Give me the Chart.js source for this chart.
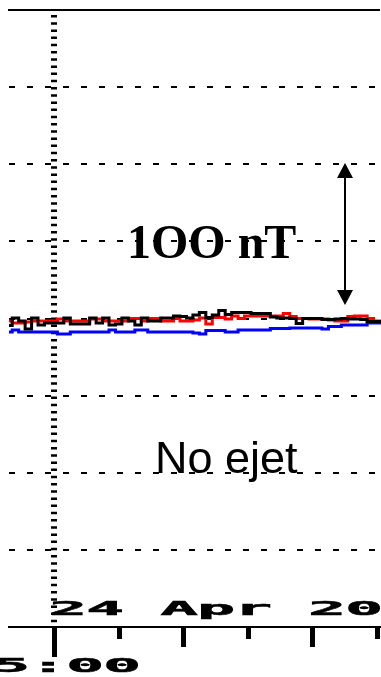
<!DOCTYPE html>
<html>
<head>
<meta charset="utf-8">
<script src="https://cdn.jsdelivr.net/npm/chart.js@4.4.1/dist/chart.umd.min.js"></script>
<style>
  html, body { margin: 0; padding: 0; background: #fff; }
  #wrap { width: 381px; height: 677px; }
</style>
</head>
<body>
<div id="wrap"><canvas id="mag" width="381" height="677"></canvas></div>
<script>
// minutes relative to the 15:00 mark, one sample every 3 minutes
const minutes = [-21, -18, -15, -12, -9, -6, -3, 0, 3, 6, 9, 12, 15, 18, 21, 24, 27, 30, 33, 36,
  39, 42, 45, 48, 51, 54, 57, 60, 63, 66, 69, 72, 75, 78, 81, 84, 87, 90, 93, 96,
  99, 102, 105, 108, 111, 114, 117, 120, 123, 126, 129, 132, 135, 138, 141, 144, 147, 150, 153];

// field components (nT)
const redSeries = [-3.2, -5.8, -5.8, -4.5, -3.2, -3.2, -3.2, -3.2, -0.6, -3.2, -3.2, -3.2, -3.2, -0.6, -0.6, -3.2, -3.2, -3.2, -3.2, 0,
  0, -3.2, 0, 0, -3.2, -3.2, 0, -3.2, -3.2, -1.9, 0.6, -7.1, 1.3, 1.3, -0.6, 3.2, 0, 3.2, 3.2, 3.2,
  3.2, 3.2, 3.2, 6.5, 2.6, 0, 0, -0.6, -0.6, -0.6, -1.9, -3.2, -3.2, 2.6, 3.2, 3.2, 0, -3.2, -3.2];
const blackSeries = [-9.1, 0.6, -3.2, -13.6, 0.6, -8.4, -5.8, -5.8, -5.8, 0.6, -7.1, -7.1, -7.1, 0.6, -5.8, 0.6, -8.4, -7.1, 0.6, -3.2,
  -8.4, 0.6, -3.2, -3.2, 0.6, 0.6, 3.2, 2.6, 0.6, 4.5, 7.8, 1.3, 4.5, 10.4, 5.2, 7.8, 7.8, 7.8, 6.5, 6.5,
  6.5, 1.9, 0.6, 0.6, 0, -6.5, 0, 0, 0, -1.3, -1.3, -0.6, 0, -0.6, -0.6, -1.3, -3.9, -3.9, -3.9];
const blueSeries = [-17.5, -14.9, -17.5, -17.5, -17.5, -17.5, -17.5, -17.5, -20.1, -20.1, -17.5, -17.5, -17.5, -17.5, -17.5, -17.5, -14.9, -17.5, -17.5, -17.5,
  -14.9, -14.9, -17.5, -17.5, -17.5, -17.5, -17.5, -17.5, -17.5, -18.8, -20.1, -15.6, -15.6, -15.6, -17.5, -17.5, -14.9, -14.9, -14.9, -14.9,
  -14.9, -13, -13, -13, -12.3, -12.3, -12.3, -12.3, -12.3, -13.6, -10.4, -10.4, -8.4, -8.4, -8.4, -8.4, -5.8, -5.8, -5.8];

const tickMinutes = [0, 30, 60, 90, 120, 150];
const dateLabel = "24 Apr 20";
const timeLabel = "15:00";

function line(label, values, color) {
  return {
    label,
    data: minutes.map((m, i) => ({ x: m, y: values[i] })),
    borderColor: color,
    borderWidth: 3,
    pointRadius: 0,
    stepped: "middle",
    fill: false,
    clip: { left: 0, top: 0, right: 3, bottom: 0 },
  };
}

// blocky, horizontally stretched lettering for the time axis
function wideText(ctx, str, left, base) {
  for (let i = 0; i < str.length; i++) {
    ctx.save();
    ctx.translate(left + i * 37, base);
    ctx.scale(3.3, 1);
    ctx.fillText(str[i], 0, 0);
    ctx.lineWidth = 0.5;
    ctx.strokeText(str[i], 0, 0);
    ctx.restore();
  }
}

const overlay = {
  id: "overlay",
  afterDraw(chart) {
    const { ctx, chartArea, scales: { x } } = chart;
    const axisY = chartArea.bottom;
    ctx.save();
    ctx.fillStyle = "#000";
    ctx.strokeStyle = "#000";

    // tick marks hanging under the time axis
    tickMinutes.forEach((m, i) => {
      const px = Math.round(x.getPixelForValue(m));
      const len = m === 0 ? 30 : (i % 2 === 0 ? 20 : 12);
      ctx.fillRect(px - 2, axisY, 5, len);
    });

    ctx.font = "bold 19px 'DejaVu Sans Mono'";
    ctx.textBaseline = "alphabetic";
    const x0 = x.getPixelForValue(0);
    wideText(ctx, dateLabel, x0 - 5, 615);
    wideText(ctx, timeLabel, x0 - 99, 672);

    // scale bar
    ctx.lineWidth = 2;
    ctx.beginPath();
    ctx.moveTo(345, 176);
    ctx.lineTo(345, 292);
    ctx.stroke();
    ctx.beginPath();
    ctx.moveTo(345, 163); ctx.lineTo(337, 178); ctx.lineTo(353, 178); ctx.closePath();
    ctx.fill();
    ctx.beginPath();
    ctx.moveTo(345, 305); ctx.lineTo(337, 290); ctx.lineTo(353, 290); ctx.closePath();
    ctx.fill();

    ctx.font = "bold 48px 'Liberation Serif'";
    ctx.fillText("1OO nT", 127, 258);

    ctx.font = "45px 'Liberation Sans'";
    ctx.fillText("No ejet", 155, 473);
    ctx.restore();
  },
};

new Chart(document.getElementById("mag"), {
  type: "line",
  data: {
    datasets: [
      line("black", blackSeries, "#000000"),
      line("red", redSeries, "#ff0000"),
      line("blue", blueSeries, "#0000ff"),
    ],
  },
  options: {
    responsive: false,
    animation: false,
    layout: { padding: { left: 9, right: 2, top: 10, bottom: 50 } },
    plugins: { legend: { display: false }, tooltip: { enabled: false } },
    scales: {
      x: {
        type: "linear",
        min: -21,
        max: 151,
        afterBuildTicks: (axis) => { axis.ticks = tickMinutes.map((v) => ({ value: v })); },
        ticks: { display: false },
        grid: { drawTicks: false, color: "#000", lineWidth: (c) => (c.tick && c.tick.value === 0 ? 6 : 0) },
        border: { color: "#000", width: 2, dash: [2.5, 4.7], dashOffset: 2.2 },
      },
      x2: {
        type: "linear",
        position: "top",
        min: -21,
        max: 151,
        ticks: { display: false },
        grid: { display: false, drawTicks: false },
        border: { color: "#000", width: 2 },
      },
      y: {
        min: -400,
        max: 400,
        ticks: { display: false, stepSize: 100 },
        grid: { drawTicks: false, color: "#000", lineWidth: 2 },
        border: { display: false, dash: [6, 12] },
      },
    },
  },
  plugins: [overlay],
});
</script>
</body>
</html>
